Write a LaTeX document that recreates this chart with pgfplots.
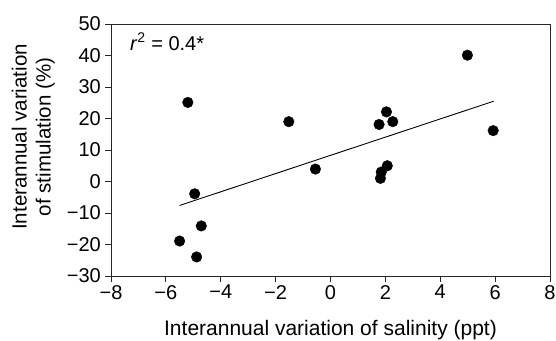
\documentclass[border=0pt]{standalone}
\usepackage{fontspec}
\setmainfont{Liberation Sans}
\usepackage{pgfplots}
\pgfplotsset{compat=1.18}
\begin{document}
\begin{tikzpicture}[x=1pt,y=1pt]
\path[use as bounding box] (0,0) rectangle (556,340);
\begin{axis}[
  at={(111pt,64pt)}, anchor=south west,
  scale only axis, width=439pt, height=252pt,
  xmin=-8, xmax=8, ymin=-30, ymax=50,
  xtick={-8,-6,...,8}, ytick={-30,-20,...,50},
  xticklabels={−8,−6,−4,−2,0,2,4,6,8},
  yticklabels={−30,−20,−10,0,10,20,30,40,50},
  tick align=outside, tickwidth=6pt,
  xtick pos=bottom, ytick pos=left,
  axis line style={line width=0.9pt, black!85},
  major tick style={line width=0.9pt, black!85},
  ticklabel style={font=\fontsize{20}{23}\selectfont, inner sep=2pt},
  yticklabel style={xshift=-2pt},
  xticklabel style={yshift=-1pt},
  xlabel={Interannual variation of salinity (ppt)},
  ylabel={Interannual variation\\of stimulation (\%)},
  xlabel style={at={(axis description cs:0.5,-0.238)}, anchor=base, font=\fontsize{21}{24}\selectfont},
  ylabel style={at={(axis description cs:-0.177,0.552)}, anchor=center, align=center, font=\fontsize{20.5}{24}\selectfont},
  clip=false,
]
\addplot[only marks, mark=*, mark size=5.3pt, mark options={fill=black, draw=black}] coordinates {
(-5.50,-18.9) (-5.20,25.1) (-4.95,-3.9) (-4.88,-23.95) (-4.71,-14.1)
(-1.52,19.0) (-0.55,3.95) (1.77,18.1) (1.82,1.0) (1.85,3.0)
(2.04,22.1) (2.07,5.0) (2.27,19.0) (4.99,40.1) (5.93,16.15)
};
\addplot[black, line width=0.9pt] coordinates {(-5.50,-7.6) (5.95,25.5)};
\node[anchor=base west, inner sep=0pt, font=\fontsize{20}{24}\selectfont] at (axis cs:-7.31,41.7) {\textit{r}\textsuperscript{2} = 0.4*};
\end{axis}
\end{tikzpicture}
\end{document}
